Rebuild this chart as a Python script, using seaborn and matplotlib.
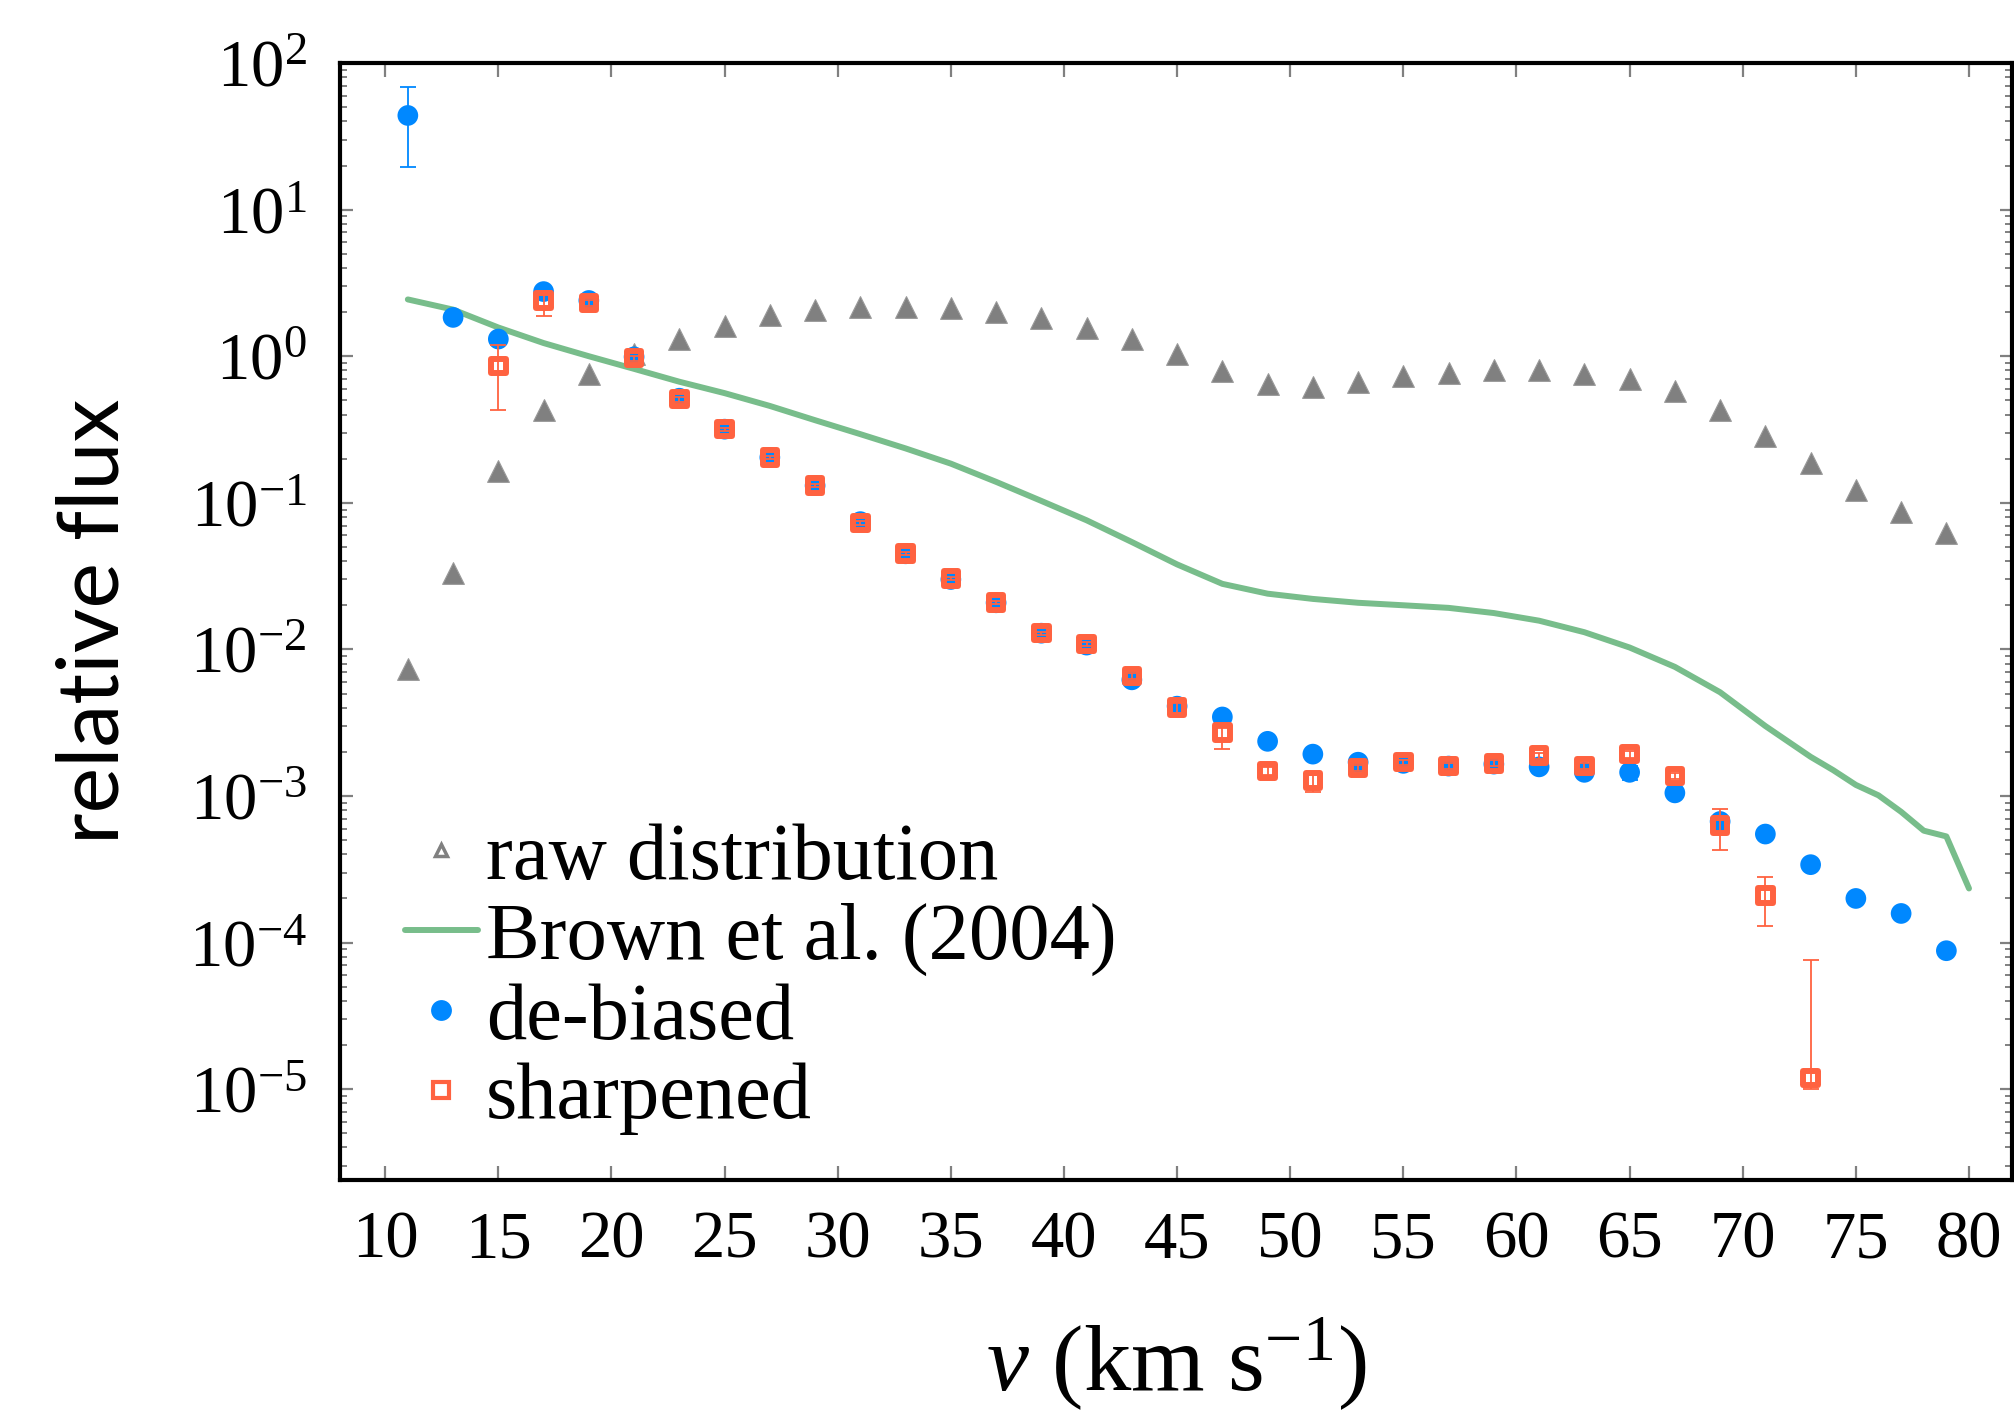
import numpy as np
import pandas as pd
import matplotlib
matplotlib.use("Agg")
import matplotlib.pyplot as plt
from matplotlib.lines import Line2D
from matplotlib.ticker import LogLocator, LogFormatterMathtext, MultipleLocator, NullFormatter
import seaborn as sns

# data
v_pts = [11, 13, 15, 17, 19, 21, 23, 25, 27, 29, 31, 33, 35, 37, 39, 41, 43, 45,
         47, 49, 51, 53, 55, 57, 59, 61, 63, 65, 67, 69, 71, 73, 75, 77, 79]

raw_flux = [0.0074, 0.033, 0.164, 0.43, 0.76, 1.03, 1.31, 1.6, 1.92, 2.08, 2.17, 2.17,
            2.12, 2.0, 1.81, 1.57, 1.31, 1.03, 0.79, 0.645, 0.62, 0.67, 0.73, 0.77,
            0.80, 0.80, 0.76, 0.70, 0.58, 0.43, 0.287, 0.188, 0.123, 0.086, 0.062]

debiased_flux = [43.9, 1.84, 1.31, 2.76, 2.40, 0.99, 0.517, 0.318, 0.204, 0.131, 0.0744,
                 0.0449, 0.030, 0.0208, 0.0129, 0.0107, 0.0062, 0.0041, 0.00346, 0.00236,
                 0.00193, 0.0017, 0.00167, 0.0016, 0.00165, 0.00158, 0.00145, 0.00145,
                 0.00105, 0.00067, 0.00055, 0.00034, 0.0002, 0.000158, 0.000088]
debiased_lo = [19.5, None, None, None, None, None, None, None, None, None, None, None,
               None, None, None, None, None, None, None, None, None, None, None, None,
               None, None, None, 0.00128, None, None, None, None, None, None, None]
debiased_hi = [68.4, None, None, None, None, None, None, None, None, None, None, None,
               None, None, None, None, None, None, None, None, None, None, None, None,
               None, None, None, 0.00160, None, None, None, None, None, None, None]

v_sharp = [15, 17, 19, 21, 23, 25, 27, 29, 31, 33, 35, 37, 39, 41, 43, 45, 47, 49, 51,
           53, 55, 57, 59, 61, 63, 65, 67, 69, 71, 73]
sharp_flux = [0.855, 2.4, 2.3, 0.97, 0.51, 0.318, 0.204, 0.131, 0.073, 0.045, 0.0305,
              0.0208, 0.0129, 0.0109, 0.0066, 0.0040, 0.0027, 0.00148, 0.00128, 0.00155,
              0.0017, 0.0016, 0.00167, 0.00189, 0.0016, 0.00193, 0.00137, 0.00063,
              0.00021, 1.19e-5]
sharp_lo = [0.43, 1.88, 2.2, 0.93, 0.49, 0.31, 0.2, 0.128, 0.071, 0.044, 0.0298, 0.0203,
            0.0126, 0.0106, 0.0063, 0.0037, 0.0021, 0.00138, 0.00107, 0.00148, 0.00163,
            0.00153, 0.00159, 0.0018, 0.00152, 0.00183, 0.0013, 0.00043, 0.000129, 1.0e-5]
sharp_hi = [1.2, 2.8, 2.4, 1.01, 0.53, 0.326, 0.208, 0.134, 0.075, 0.046, 0.0312, 0.0213,
            0.0132, 0.0112, 0.0069, 0.0043, 0.0029, 0.00158, 0.00140, 0.00162, 0.00177,
            0.00167, 0.00175, 0.00198, 0.00168, 0.00203, 0.00144, 0.00082, 0.000279, 7.6e-5]

v_brown = [11, 13, 15, 17, 19, 21, 23, 25, 27, 29, 31, 33, 35, 37, 39, 41, 43, 45, 47,
           49, 51, 53, 55, 57, 59, 61, 63, 65, 67, 69, 71, 73, 74, 75, 76, 77, 78, 79, 80]
brown_flux = [2.44, 2.08, 1.57, 1.23, 1.0, 0.82, 0.67, 0.56, 0.458, 0.366, 0.294, 0.235,
              0.185, 0.139, 0.103, 0.076, 0.054, 0.038, 0.028, 0.024, 0.0221, 0.0208,
              0.020, 0.0192, 0.0177, 0.0157, 0.0131, 0.0103, 0.0076, 0.0051, 0.0030,
              0.00185, 0.0015, 0.00119, 0.00101, 0.00078, 0.00058, 0.00053, 0.000234]

GRAY = "#808080"
GREEN = "#78bd8b"
BLUE = "#0088ff"
ORANGE = "#ff6240"

sns.set_theme(style="ticks")
plt.rcParams["font.family"] = ["Liberation Serif", "DejaVu Serif"]
plt.rcParams["mathtext.fontset"] = "custom"
plt.rcParams["mathtext.rm"] = "Liberation Serif"
plt.rcParams["mathtext.it"] = "Liberation Serif:italic"
plt.rcParams["text.color"] = "black"
plt.rcParams["axes.labelcolor"] = "black"
plt.rcParams["xtick.labelcolor"] = "black"
plt.rcParams["ytick.labelcolor"] = "black"

raw_df = pd.DataFrame({"v": v_pts, "flux": raw_flux})
deb_df = pd.DataFrame({"v": v_pts, "flux": debiased_flux})
sharp_df = pd.DataFrame({"v": v_sharp, "flux": sharp_flux})
brown_df = pd.DataFrame({"v": v_brown, "flux": brown_flux})

fig = plt.figure(figsize=(20.14, 14.2), dpi=100)
ax = fig.add_axes([0.1688, 0.169, 0.8302, 0.7866])

sns.scatterplot(data=raw_df, x="v", y="flux", marker="^", s=245, color=GRAY,
                edgecolor="#9a9a9a", linewidth=0.8, ax=ax, zorder=2)
sns.lineplot(data=brown_df, x="v", y="flux", color=GREEN, linewidth=4.3, ax=ax, zorder=3)

# error bars for de-biased points
d_idx = [i for i, lo in enumerate(debiased_lo) if lo is not None]
d_x = np.array([v_pts[i] for i in d_idx])
d_y = np.array([debiased_flux[i] for i in d_idx])
d_err = np.array([[d_y[k] - debiased_lo[i] for k, i in enumerate(d_idx)],
                  [debiased_hi[i] - d_y[k] for k, i in enumerate(d_idx)]])
ax.errorbar(d_x, d_y, yerr=d_err, fmt="none", ecolor=BLUE, elinewidth=1.3,
            capsize=6, capthick=1.3, zorder=3)
sns.scatterplot(data=deb_df, x="v", y="flux", marker="o", s=222, color=BLUE,
                edgecolor="none", ax=ax, zorder=4)

s_y = np.array(sharp_flux)
s_err = np.array([s_y - np.array(sharp_lo), np.array(sharp_hi) - s_y])
ax.errorbar(v_sharp, s_y, yerr=s_err, fmt="none", ecolor=ORANGE, elinewidth=1.3,
            capsize=6, capthick=1.3, zorder=5)
sns.scatterplot(data=sharp_df, x="v", y="flux", marker="s", s=110, facecolor="none",
                edgecolor=ORANGE, linewidth=4.3, ax=ax, zorder=6)

ax.set_yscale("log")
ax.set_xlim(8, 81.9)
ax.set_ylim(2.4e-6, 100)

ax.xaxis.set_major_locator(MultipleLocator(5))
ax.yaxis.set_major_locator(LogLocator(base=10, numticks=20))
ax.yaxis.set_major_formatter(LogFormatterMathtext())
ax.yaxis.set_minor_locator(LogLocator(base=10, subs=np.arange(2, 10), numticks=20))
ax.yaxis.set_minor_formatter(NullFormatter())

ax.tick_params(which="both", direction="in", top=True, right=True, color=GRAY)
ax.tick_params(axis="x", which="major", length=10, width=1.6, labelsize=48, pad=22)
ax.tick_params(axis="y", which="major", length=9, width=1.6, labelsize=48, pad=24)
ax.tick_params(axis="y", which="minor", length=5, width=1.4)

for sp in ax.spines.values():
    sp.set_linewidth(3.0)
    sp.set_color("black")

ax.set_xlabel(r"$v$ (km s$^{-1}$)", fontsize=68, labelpad=32)
ax.set_ylabel("relative flux", fontsize=62, family=["Lato", "DejaVu Sans"], labelpad=40)

handles = [
    Line2D([], [], linestyle="none", marker="^", markersize=9, markerfacecolor="white",
           markeredgecolor=GRAY, markeredgewidth=2.5),
    Line2D([], [], color=GREEN, linewidth=4.3),
    Line2D([], [], linestyle="none", marker="o", markersize=15, markerfacecolor=BLUE,
           markeredgecolor="none"),
    Line2D([], [], linestyle="none", marker="s", markersize=11, markerfacecolor="white",
           markeredgecolor=ORANGE, markeredgewidth=3),
]
labels = ["raw distribution", "Brown et al. (2004)", "de-biased", "sharpened"]
ax.legend(handles, labels, loc="lower left", frameon=False, fontsize=58,
          handlelength=0.9, handletextpad=0.1, labelspacing=0.08,
          borderpad=0.0, borderaxespad=0.0, bbox_to_anchor=(0.039, 0.040))

fig.savefig("out.png", dpi=100)
